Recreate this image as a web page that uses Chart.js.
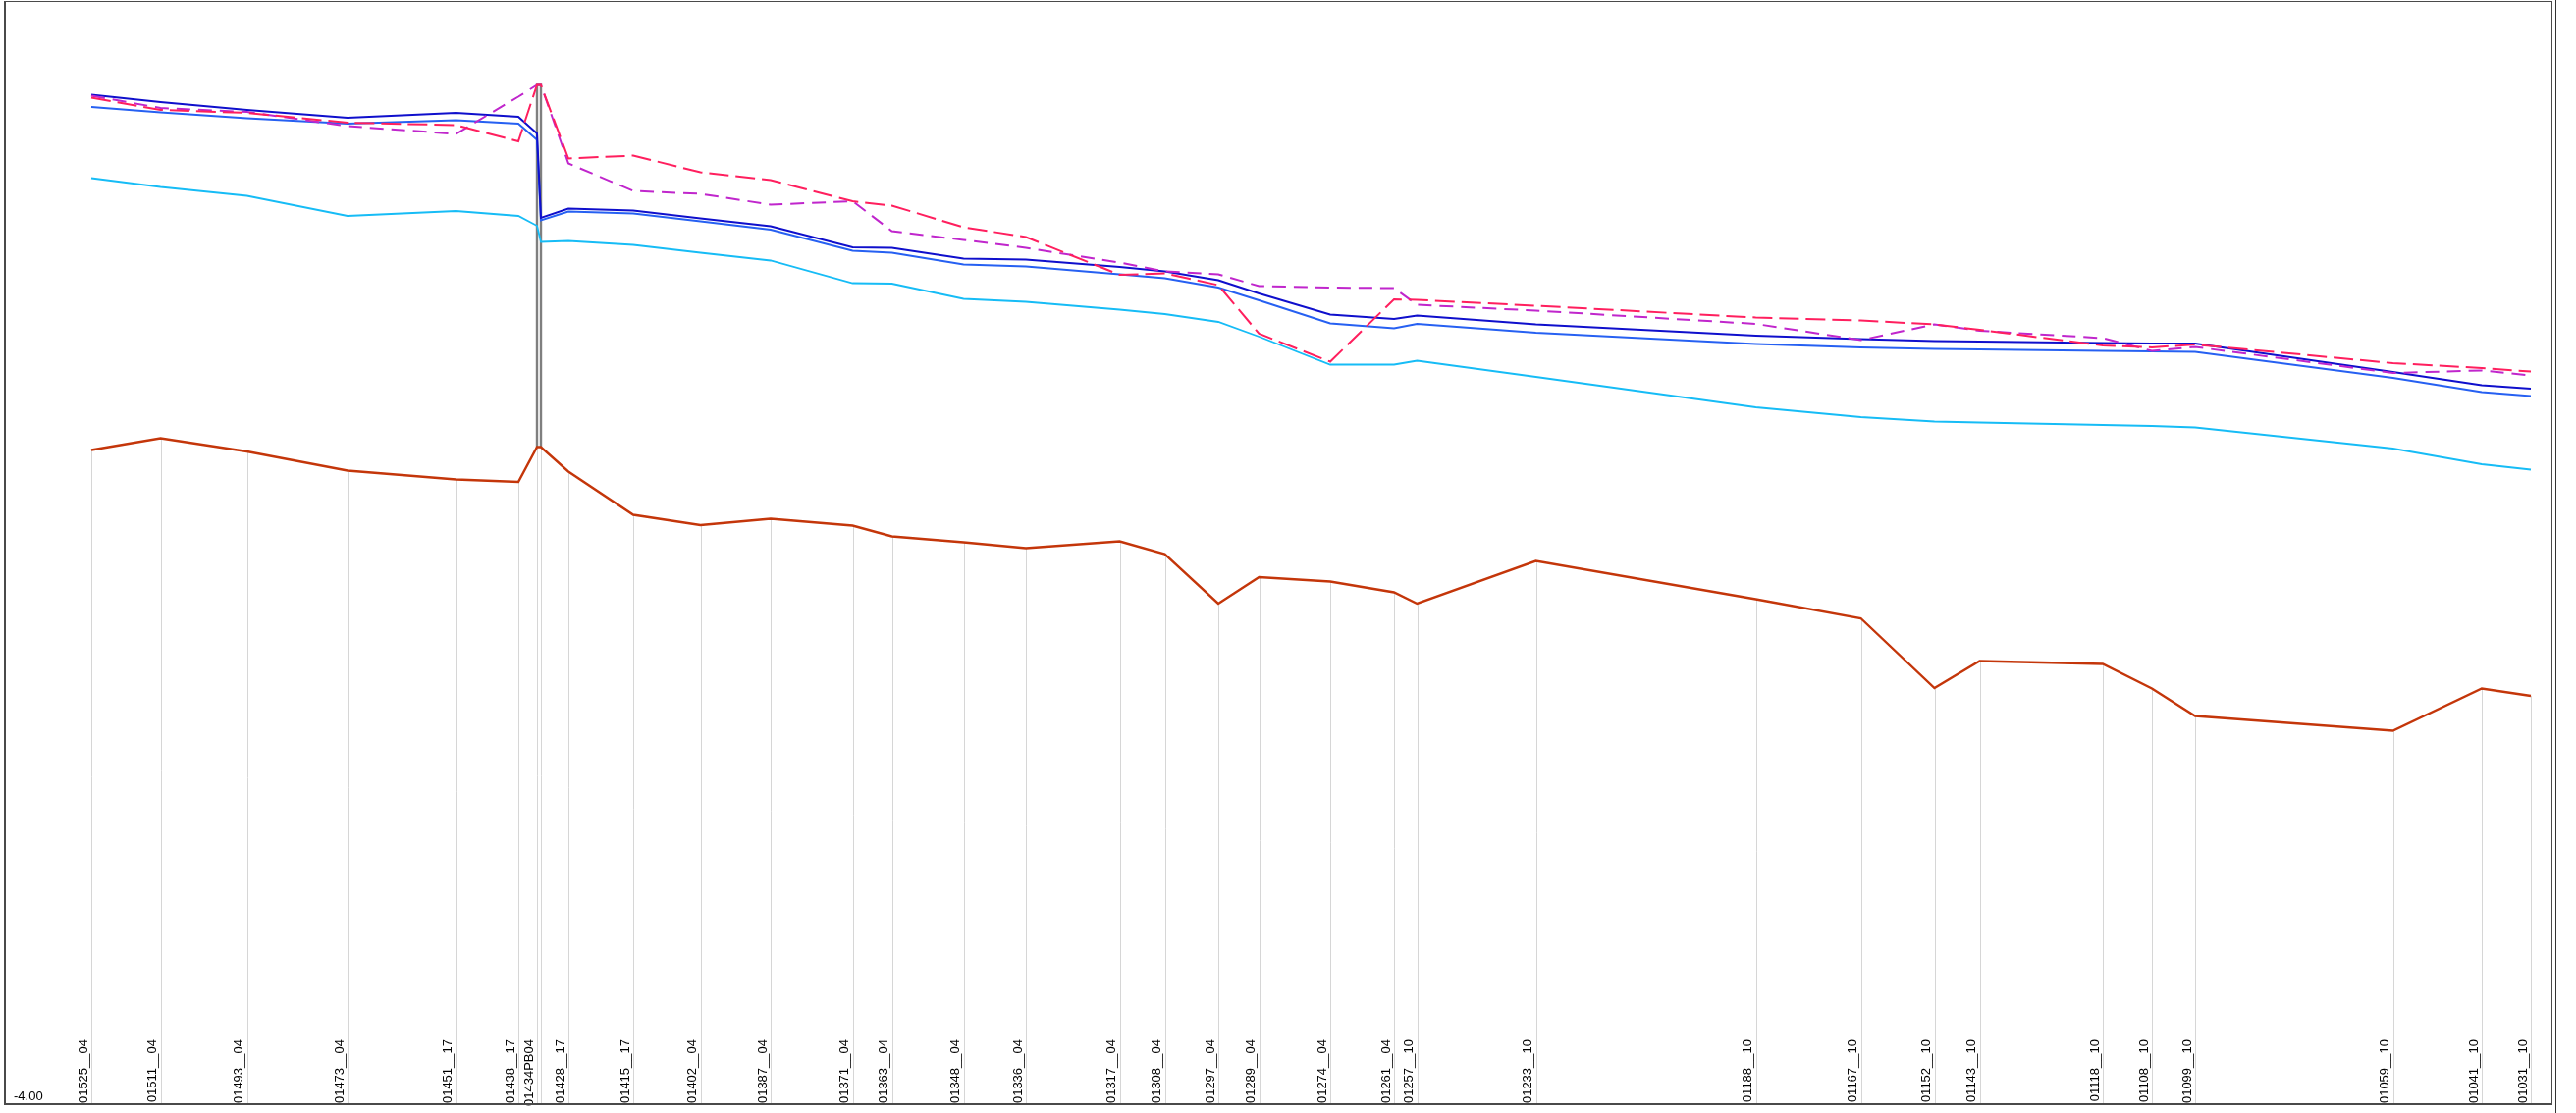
<!DOCTYPE html>
<html>
<head>
<meta charset="utf-8">
<title>Perfil longitudinal</title>
<script src="https://cdn.jsdelivr.net/npm/chart.js@4.4.1/dist/chart.umd.min.js"></script>
<style>
  html, body { margin: 0; padding: 0; background: #fff; }
  #wrap { position: relative; width: 2624px; height: 1134px; overflow: hidden; background: #fff; }
  #profile { position: absolute; left: 0; top: 0; }
  .frame {
    position: absolute; left: 4px; top: 1px;
    width: 2593px; height: 1122px;
    border-style: solid; border-color: #4a4a4a;
    border-width: 1px 1px 2px 2px;
    pointer-events: none;
  }
  .edge { position: absolute; left: 2603px; top: 0; width: 1px; height: 1134px; background: #333; }
</style>
</head>
<body>
<div id="wrap">
  <canvas id="profile" width="2624" height="1134"></canvas>
  <div class="frame"></div>
  <div class="edge"></div>
</div>
<script>
// Station names along the profile ('' = downstream wall of the manhole 01434PB04)
const stationNames = [
  '01525__04', '01511__04', '01493__04', '01473__04', '01451__17', '01438__17',
  '01434PB04', '',
  '01428__17', '01415__17', '01402__04', '01387__04', '01371__04', '01363__04',
  '01348__04', '01336__04', '01317__04', '01308__04', '01297__04', '01289__04',
  '01274__04', '01261__04', '01257__10', '01233__10', '01188__10', '01167__10',
  '01152__10', '01143__10', '01118__10', '01108__10', '01099__10', '01059__10',
  '01041__10', '01031__10'
];

// Distance along the line (m)
const chainage = [
  0, 141, 317, 522, 743, 870, 908, 916, 972, 1104, 1241, 1384, 1551, 1631, 1777,
  1904, 2095, 2187, 2296, 2379, 2524, 2654, 2701, 2943, 3391, 3605, 3755, 3847,
  4098, 4198, 4286, 4689, 4870, 4970
];

// Ground level, survey (m)
const groundSurvey = [
  16.51, 16.26, 16.20, 16.00, 15.95, 15.62, 16.77, 16.77, 15.27, 15.33, 14.99, 14.83,
  14.40, 14.31, 13.87, 13.67, 12.90, 12.93, 12.69, 11.70, 11.13, 12.40, 12.39, 12.27,
  12.03, 11.97, 11.89, 11.78, 11.46, 11.42, 11.48, 11.10, 11.00, 10.93
];

// Ground level, design (m)
const groundDesign = [
  16.55, 16.30, 16.22, 15.93, 15.77, 16.53, 16.77, 16.77, 15.17, 14.61, 14.55, 14.33,
  14.40, 13.79, 13.61, 13.45, 13.15, 12.97, 12.91, 12.67, 12.64, 12.63, 12.29, 12.17,
  11.90, 11.57, 11.89, 11.76, 11.61, 11.35, 11.43, 10.90, 10.95, 10.85
];

// Pipe crown, outer (m)
const crownOuter = [
  16.57, 16.42, 16.26, 16.10, 16.20, 16.12, 15.78, 14.06, 14.25, 14.21, 14.05, 13.89,
  13.46, 13.45, 13.23, 13.21, 13.06, 12.97, 12.79, 12.52, 12.09, 12.00, 12.07, 11.89,
  11.66, 11.59, 11.55, 11.54, 11.51, 11.50, 11.50, 10.92, 10.65, 10.58
];

// Pipe crown, inner (m)
const crownInner = [
  16.32, 16.21, 16.09, 15.98, 16.05, 15.98, 15.65, 14.01, 14.19, 14.15, 13.99, 13.82,
  13.39, 13.35, 13.11, 13.07, 12.91, 12.83, 12.64, 12.38, 11.91, 11.81, 11.90, 11.72,
  11.49, 11.42, 11.39, 11.38, 11.35, 11.34, 11.33, 10.80, 10.51, 10.43
];

// Pipe invert (m)
const invertLevel = [
  14.87, 14.69, 14.51, 14.10, 14.20, 14.10, 13.90, 13.57, 13.59, 13.51, 13.35, 13.19,
  12.73, 12.72, 12.41, 12.35, 12.19, 12.10, 11.94, 11.64, 11.07, 11.07, 11.15, 10.82,
  10.20, 10.00, 9.91, 9.89, 9.84, 9.82, 9.79, 9.36, 9.04, 8.93
];

// Lower reference level (m)
const lowerLevel = [
  9.33, 9.57, 9.30, 8.91, 8.73, 8.68, 9.39, 9.39, 8.89, 8.01, 7.80, 7.93,
  7.79, 7.57, 7.45, 7.33, 7.47, 7.21, 6.20, 6.74, 6.65, 6.43, 6.20, 7.07,
  6.29, 5.90, 4.48, 5.03, 4.97, 4.47, 3.91, 3.61, 4.47, 4.32
];

// Axis extents (m)
const yMin = -4.00;
const yMax = 18.46;
const xMin = -166;
const xMax = 5012;

const MH = 6; // index of the manhole's upstream wall

const pts = (arr) => chainage.map((c, i) => ({ x: c, y: arr[i] }));

const labelled = stationNames
  .map((name, i) => ({ name, value: chainage[i] }))
  .filter(t => t.name !== '');

const FONT = "'Liberation Sans', Arial, sans-serif";

// Thin vertical drop lines from the lower level down to the base of the plot
const dropLines = {
  id: 'dropLines',
  beforeDatasetsDraw(chart) {
    const { ctx, chartArea, scales: { x, y } } = chart;
    ctx.save();
    ctx.strokeStyle = '#d6d6d6';
    ctx.lineWidth = 1;
    ctx.beginPath();
    chainage.forEach((c, i) => {
      const px = Math.round(x.getPixelForValue(c)) + 0.5;
      ctx.moveTo(px, y.getPixelForValue(lowerLevel[i]));
      ctx.lineTo(px, chartArea.bottom);
    });
    ctx.stroke();
    ctx.restore();
  }
};

const line = (data, color, width, dash) => ({
  type: 'line',
  data: pts(data),
  borderColor: color,
  borderWidth: width,
  borderDash: dash || [],
  pointRadius: 0,
  tension: 0,
  fill: false,
  order: 0
});

new Chart(document.getElementById('profile'), {
  type: 'line',
  data: {
    datasets: [
      line(groundSurvey, '#ff1f5e', 2, [20, 7]),
      line(groundDesign, '#c026cc', 2, [14, 8]),
      line(crownOuter, '#0f0fcc', 2),
      line(crownInner, '#2660f2', 2),
      line(invertLevel, '#16bcf6', 1.8),
      line(lowerLevel, '#c4360a', 2.4),
      {
        // manhole 01434PB04 walls
        type: 'line',
        data: [
          { x: chainage[MH], y: lowerLevel[MH] },
          { x: chainage[MH], y: groundSurvey[MH] },
          { x: chainage[MH + 1], y: groundSurvey[MH + 1] },
          { x: chainage[MH + 1], y: lowerLevel[MH + 1] }
        ],
        borderColor: '#7f7f7f',
        borderWidth: 2.4,
        pointRadius: 0,
        fill: false,
        order: 5
      }
    ]
  },
  options: {
    responsive: false,
    devicePixelRatio: 1,
    animation: false,
    events: [],
    layout: { autoPadding: false, padding: { left: 4, top: 2, right: 25, bottom: 9 } },
    plugins: { legend: { display: false }, tooltip: { enabled: false } },
    scales: {
      x: {
        type: 'linear',
        min: xMin,
        max: xMax,
        bounds: 'data',
        offset: false,
        position: { y: -2.68 },
        grid: { display: false, drawTicks: false },
        border: { display: false },
        afterBuildTicks(axis) {
          axis.ticks = labelled.map(t => ({ value: t.value }));
        },
        afterFit(axis) {
          axis.paddingLeft = 0; axis.paddingRight = 0;
          axis.paddingTop = 0; axis.paddingBottom = 0;
        },
        ticks: {
          autoSkip: false,
          minRotation: 90,
          maxRotation: 90,
          padding: 0,
          labelOffset: -8,
          color: '#000',
          font: { family: FONT, size: 13 },
          callback: (v, i) => labelled[i] ? labelled[i].name : ''
        }
      },
      y: {
        type: 'linear',
        position: 'left',
        min: yMin,
        max: yMax,
        bounds: 'data',
        grid: { display: false, drawTicks: false },
        border: { display: false },
        afterBuildTicks(axis) {
          axis.ticks = [{ value: yMin }];
        },
        afterFit(axis) {
          axis.width = 6;
          axis.paddingTop = 0; axis.paddingBottom = 0;
        },
        ticks: {
          mirror: true,
          padding: 4,
          labelOffset: -8,
          color: '#000',
          font: { family: FONT, size: 13 },
          callback: (v) => Number(v).toFixed(2)
        }
      }
    }
  },
  plugins: [dropLines]
});
</script>
</body>
</html>
